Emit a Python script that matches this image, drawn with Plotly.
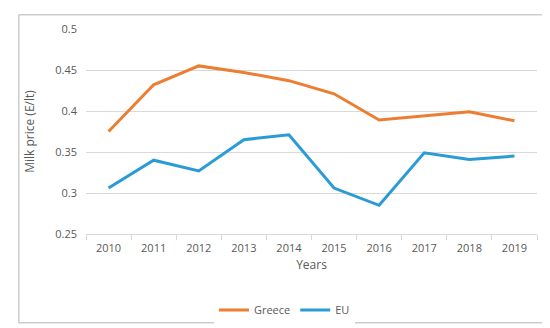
import plotly.graph_objects as go

years = ["2010", "2011", "2012", "2013", "2014", "2015", "2016", "2017", "2018", "2019"]
greece = [0.375, 0.432, 0.455, 0.447, 0.437, 0.421, 0.389, 0.394, 0.399, 0.388]
eu = [0.306, 0.340, 0.327, 0.365, 0.371, 0.306, 0.285, 0.349, 0.341, 0.345]
y_ticks = [0.25, 0.3, 0.35, 0.4, 0.45, 0.5]
y_labels = ["0.25", "0.3", "0.35", "0.4", "0.45", "0.5"]

FONT = "Open Sans"
GRAY = "#595959"

fig = go.Figure()
fig.add_trace(go.Scatter(x=years, y=greece, name="Greece", mode="lines",
                         line=dict(color="#ED7D31", width=3)))
fig.add_trace(go.Scatter(x=years, y=eu, name="EU", mode="lines",
                         line=dict(color="#2A9BD6", width=3)))

# frame around the whole chart (paper coords)
L, R, B, T = -0.149, 1.033, -0.433, 1.069
border = dict(color="#cccccc", width=1.5)
frame = [
    dict(type="line", xref="paper", yref="paper", x0=L, x1=R, y0=T, y1=T, line=border),
    dict(type="line", xref="paper", yref="paper", x0=L, x1=R, y0=B, y1=B, line=border),
    dict(type="line", xref="paper", yref="paper", x0=L, x1=L, y0=B, y1=T, line=border),
    dict(type="line", xref="paper", yref="paper", x0=R, x1=R, y0=B, y1=T, line=border),
]

fig.update_layout(
    width=550, height=328,
    margin=dict(l=78, r=21, t=21, b=97),
    paper_bgcolor="white", plot_bgcolor="white",
    font=dict(family=FONT, size=11, color=GRAY),
    showlegend=True,
    legend=dict(orientation="h", x=0.44, xanchor="center", y=-0.30, yanchor="top",
                font=dict(size=11, color=GRAY), itemwidth=30, tracegroupgap=0),
    xaxis=dict(type="category", range=[-0.5, len(years) - 0.5], showgrid=False,
               showline=True, linecolor="#d9d9d9",
               linewidth=1, ticks="outside", tickson="boundaries", ticklen=5,
               tickcolor="#d9d9d9", tickfont=dict(size=11, color=GRAY),
               ticklabelstandoff=4,
               title=dict(text="Years", font=dict(size=12, color=GRAY), standoff=6)),
    yaxis=dict(range=[0.25, 0.5], tickvals=y_ticks, ticktext=y_labels,
               showgrid=True, gridcolor="#d9d9d9", gridwidth=1, zeroline=False,
               showline=False, tickfont=dict(size=11, color=GRAY), ticks="",
               ticklabelstandoff=8,
               title=dict(text="Milk price (E/lt)", font=dict(size=12, color=GRAY), standoff=18)),
    shapes=frame,
)

fig.write_html("out.html")
